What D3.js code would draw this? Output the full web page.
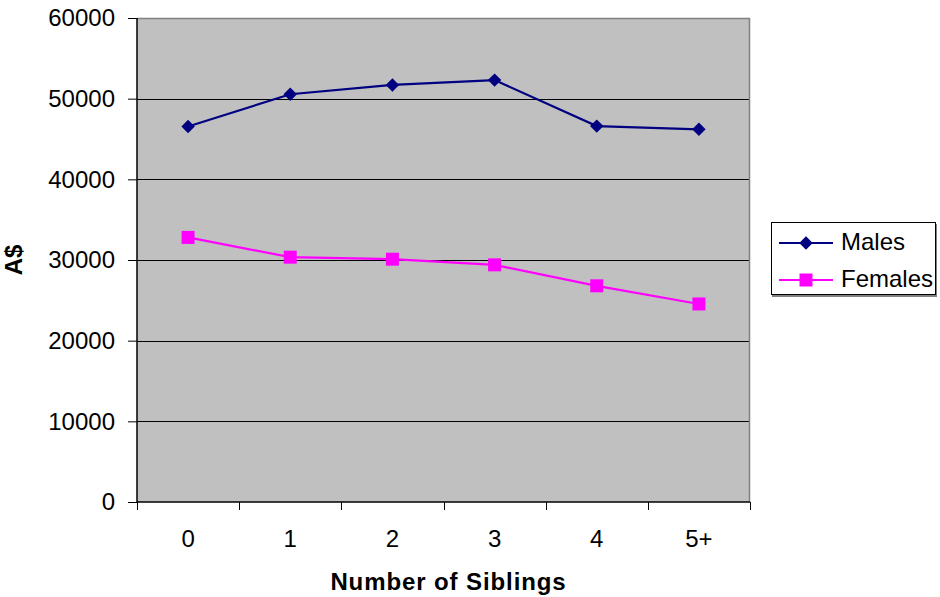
<!DOCTYPE html>
<html>
<head>
<meta charset="utf-8">
<script src="https://cdn.jsdelivr.net/npm/d3@7"></script>
<style>
  html, body { margin: 0; padding: 0; background: #fff; }
  svg { display: block; }
  text { font-family: "Liberation Sans", Arial, sans-serif; fill: #000; }
</style>
</head>
<body>
<svg id="chart" width="940" height="597"></svg>
<script>
const categories = ["0", "1", "2", "3", "4", "5+"];
const males = [46550, 50550, 51700, 52300, 46600, 46200];
const females = [32800, 30350, 30100, 29400, 26800, 24550];
const yTicks = [0, 10000, 20000, 30000, 40000, 50000, 60000];
const seriesNames = ["Males", "Females"];
const seriesColors = ["#000080", "#FF00FF"];

const svg = d3.select("#chart");
const pL = 137, pR = 750, pT = 18, pB = 502;
const FS = 24;

const x = d3.scaleBand().domain(categories).range([pL, pR]);
const y = d3.scaleLinear().domain([0, 60000]).range([pB, pT]);

// plot background
svg.append("rect").attr("x", pL).attr("y", pT)
  .attr("width", pR - pL).attr("height", pB - pT)
  .attr("fill", "#C0C0C0");

// gridlines
svg.append("g").selectAll("line").data(yTicks.filter(d => d > 0 && d < 60000)).join("line")
  .attr("x1", pL).attr("x2", pR)
  .attr("y1", d => Math.round(y(d)) + 0.5).attr("y2", d => Math.round(y(d)) + 0.5)
  .attr("stroke", "#000").attr("stroke-width", 1);

// top and right border (gray)
svg.append("path")
  .attr("d", `M${pL},${pT + 0.5}H${pR - 0.5}V${pB}`)
  .attr("fill", "none").attr("stroke", "#808080").attr("stroke-width", 1.5);

// y axis
const yAxis = d3.axisLeft(y).tickValues(yTicks).tickSize(9).tickPadding(13).tickFormat(d3.format("d"));
const gy = svg.append("g").attr("transform", `translate(${pL},0)`).call(yAxis);
gy.select(".domain").attr("stroke", "#000").attr("stroke-width", 1.5).attr("d", `M0,${pT}V${pB}`);
gy.selectAll(".tick line").attr("stroke", "#000");
gy.selectAll("text").attr("font-size", FS).attr("font-family", "Liberation Sans, Arial, sans-serif").attr("fill", "#000");

// x axis
const xBoundaries = d3.range(categories.length + 1).map(i => pL + i * x.step());
const gx = svg.append("g");
gx.append("line").attr("x1", pL).attr("x2", pR).attr("y1", pB).attr("y2", pB)
  .attr("stroke", "#000").attr("stroke-width", 1.5);
gx.selectAll("line.tk").data(xBoundaries).join("line").attr("class", "tk")
  .attr("x1", d => Math.round(d) + 0.5).attr("x2", d => Math.round(d) + 0.5)
  .attr("y1", pB).attr("y2", pB + 8).attr("stroke", "#000");
gx.selectAll("text").data(categories).join("text")
  .attr("x", d => x(d) + x.bandwidth() / 2).attr("y", 547)
  .attr("text-anchor", "middle").attr("font-size", FS).text(d => d);

// axis titles
svg.append("text").attr("x", 448.5).attr("y", 590)
  .attr("text-anchor", "middle").attr("font-size", FS).attr("font-weight", "bold")
  .attr("letter-spacing", 0.9)
  .text("Number of Siblings");
svg.append("text").attr("transform", `translate(22,${(pT + pB) / 2}) rotate(-90)`)
  .attr("text-anchor", "middle").attr("font-size", FS).attr("font-weight", "bold")
  .text("A$");

// lines
const cx = d => x(d) + x.bandwidth() / 2;
const line = d3.line().x((d, i) => cx(categories[i])).y(d => y(d));
const data = [males, females];
data.forEach((vals, si) => {
  svg.append("path").datum(vals).attr("d", line)
    .attr("fill", "none").attr("stroke", seriesColors[si]).attr("stroke-width", 2.2);
});

const diamond = d3.symbol().type(d3.symbolDiamond2).size(115);
const square = d3.symbol().type(d3.symbolSquare).size(169);

svg.append("g").selectAll("path").data(males).join("path")
  .attr("transform", (d, i) => `translate(${cx(categories[i])},${y(d)})`)
  .attr("d", diamond).attr("fill", seriesColors[0]);
svg.append("g").selectAll("path").data(females).join("path")
  .attr("transform", (d, i) => `translate(${cx(categories[i])},${y(d)})`)
  .attr("d", square).attr("fill", seriesColors[1]);

// legend
const lg = svg.append("g");
lg.append("rect").attr("x", 772).attr("y", 224).attr("width", 165).attr("height", 73).attr("fill", "#808080");
lg.append("rect").attr("x", 771.5).attr("y", 222.5).attr("width", 164).attr("height", 72)
  .attr("fill", "#fff").attr("stroke", "#000").attr("stroke-width", 1);
const rows = [243, 280];
seriesNames.forEach((name, i) => {
  lg.append("line").attr("x1", 779).attr("x2", 833).attr("y1", rows[i]).attr("y2", rows[i])
    .attr("stroke", seriesColors[i]).attr("stroke-width", 2.2);
  lg.append("path").attr("transform", `translate(806,${rows[i]})`)
    .attr("d", i === 0 ? diamond : square).attr("fill", seriesColors[i]);
  lg.append("text").attr("x", 841).attr("y", rows[i] + 7).attr("font-size", FS).text(name);
});
</script>
</body>
</html>
